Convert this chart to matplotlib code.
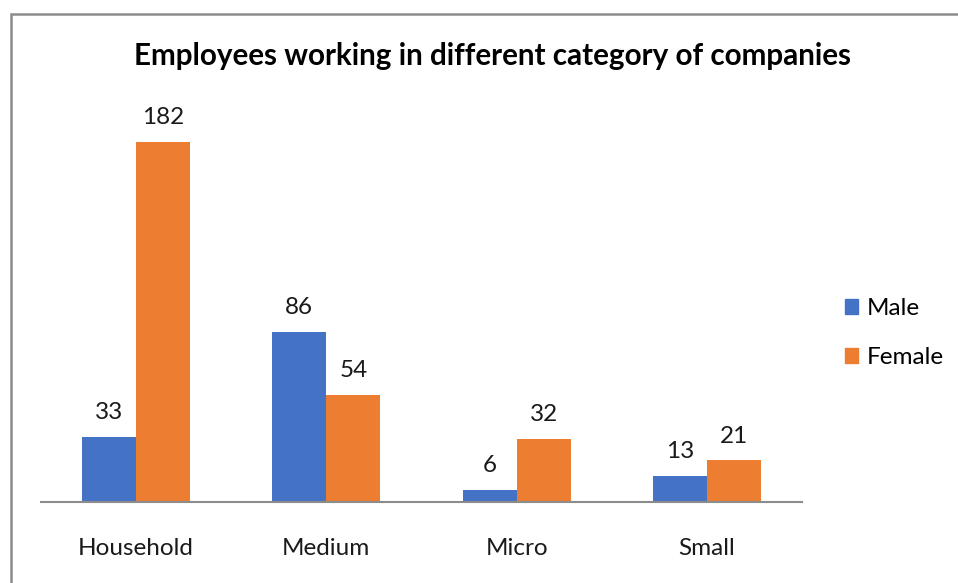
import matplotlib
matplotlib.use("Agg")
import matplotlib.pyplot as plt
from matplotlib.patches import Rectangle, Patch
import numpy as np

categories = ["Household", "Medium", "Micro", "Small"]
male = [33, 86, 6, 13]
female = [182, 54, 32, 21]
series_names = ["Male", "Female"]
colors = ["#4472C4", "#ED7D31"]
title = "Employees working in different category of companies"

plt.rcParams['font.family'] = ['Lato', 'DejaVu Sans']

fig = plt.figure(figsize=(9.58, 5.83), dpi=100)
W, H = 958, 583
# outer border
fig.patches.append(Rectangle((10.5 / W, -0.1), 1.2, 1 - 14.5 / H + 0.1, transform=fig.transFigure,
                             fill=False, edgecolor="#8c8c8c", linewidth=1.8, zorder=0))

ax = fig.add_axes([41 / W, 1 - 502 / H, (802 - 41) / W, (502 - 106) / H])
x = np.arange(len(categories))
bw = 0.284
b1 = ax.bar(x - bw / 2, male, bw, color=colors[0], label=series_names[0])
b2 = ax.bar(x + bw / 2, female, bw, color=colors[1], label=series_names[1])
for bars in (b1, b2):
    ax.bar_label(bars, padding=10, fontsize=17.5, color="#1a1a1a")

ax.set_xlim(-0.5, len(categories) - 0.5)
ax.set_ylim(0, 200)
ax.set_yticks([])
ax.set_xticks(x)
ax.set_xticklabels(categories, fontsize=17.5, color="#1a1a1a")
ax.tick_params(axis="x", length=0, pad=26)
for s in ["top", "right", "left"]:
    ax.spines[s].set_visible(False)
ax.spines["bottom"].set_color("#8c8c8c")
ax.spines["bottom"].set_linewidth(1.5)

fig.text(492 / W, 1 - 56 / H, title, ha="center", va="center", fontsize=21.3, fontweight="bold",
         color="black")

handles = [Patch(color=c) for c in colors]
fig.legend(handles, series_names, loc="center left", bbox_to_anchor=(823 / W, 1 - 333 / H),
           frameon=False, fontsize=17.5, handlelength=0.55, handleheight=0.55, handletextpad=0.35,
           labelspacing=1.15)

fig.savefig("out.png", dpi=100)
